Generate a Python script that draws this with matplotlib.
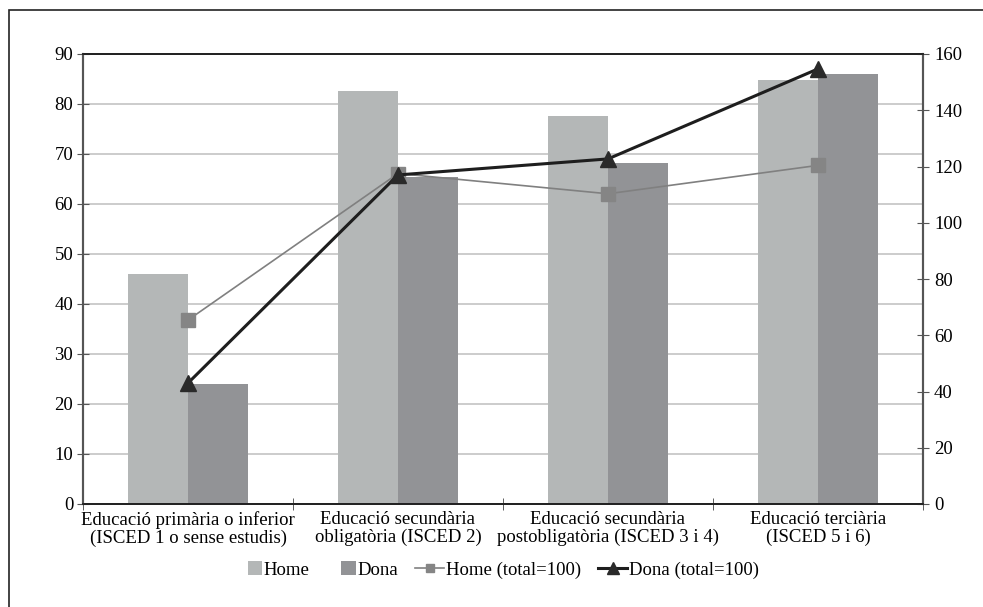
import matplotlib
matplotlib.use("Agg")
import matplotlib.pyplot as plt
import numpy as np
from matplotlib.patches import Rectangle, Patch
from matplotlib.lines import Line2D
from matplotlib.legend_handler import HandlerPatch

categories = ["Educació primària o inferior\n(ISCED 1 o sense estudis)",
              "Educació secundària\nobligatòria (ISCED 2)",
              "Educació secundària\npostobligatòria (ISCED 3 i 4)",
              "Educació terciària\n(ISCED 5 i 6)"]
home = [46.0, 82.6, 77.6, 84.8]
dona = [24.0, 65.4, 68.2, 86.0]
home_idx = [65.4, 117.5, 110.3, 120.4]
dona_idx = [43.0, 117.0, 122.7, 154.7]

plt.rcParams['font.family'] = ['Liberation Serif', 'DejaVu Serif']
FS = 13.5
C_HOME = '#b4b7b7'
C_DONA = '#929396'

fig = plt.figure(figsize=(9.83, 6.07), dpi=100)
fig.patches.append(Rectangle((9/983, -0.05), 1.2, 1 - 10/607 + 0.05, transform=fig.transFigure,
                             fill=False, edgecolor='#222222', linewidth=1.2))
ax = fig.add_axes([83/983, 1 - 504/607, 840/983, 450/607])
ax2 = ax.twinx()

x = np.arange(len(categories))
w = 0.288
ax.bar(x - w/2, home, w, color=C_HOME, label='Home', zorder=2)
ax.bar(x + w/2, dona, w, color=C_DONA, label='Dona', zorder=2)

ax.set_xlim(-0.5, 3.5)
ax.set_ylim(0, 90)
ax.set_yticks(range(0, 91, 10))
ax.grid(axis='y', color='#c8c8c8', linewidth=1.3, zorder=0)
ax.set_axisbelow(True)
ax.set_xticks(x)
ax.set_xticklabels(categories, fontsize=FS, linespacing=1.05)
ax.set_xticks(np.arange(-0.5, 4, 1), minor=True)
ax.tick_params(axis='x', which='major', length=0, pad=5)
ax.tick_params(axis='x', which='minor', length=9, direction='inout', color='#444444')
ax.tick_params(axis='y', direction='inout', length=8, color='#555555', labelsize=FS, pad=3)

ax2.plot(x, home_idx, color='#808080', linewidth=1.2, marker='s', markersize=10.5,
         markerfacecolor='#858585', markeredgecolor='#858585', label='Home (total=100)', zorder=3)
ax2.plot(x, dona_idx, color='#1e1e1e', linewidth=2.2, marker='^', markersize=12,
         markerfacecolor='#2a2a2a', markeredgecolor='#2a2a2a', label='Dona (total=100)', zorder=4)
ax2.set_ylim(0, 160)
ax2.set_yticks(range(0, 161, 20))
ax2.tick_params(axis='y', direction='inout', length=8, color='#555555', labelsize=FS, pad=4)

for a in (ax, ax2):
    for s in ('left', 'right'):
        a.spines[s].set_color('#555555')
        a.spines[s].set_linewidth(1.5)
    for s in ('bottom', 'top'):
        a.spines[s].set_color('#222222')
        a.spines[s].set_linewidth(1.3)
ax.set_zorder(ax2.get_zorder() - 1)
ax2.patch.set_visible(False)


def square_patch(legend, orig_handle, xdescent, ydescent, width, height, fontsize):
    s = height * 1.05
    return Rectangle((width - s - xdescent, -ydescent + (height - s) / 2), s, s)


hp = [Patch(facecolor=C_HOME, edgecolor='none'), Patch(facecolor=C_DONA, edgecolor='none')]
hl = [Line2D([], [], color='#808080', linewidth=1.2, marker='s', markersize=6,
             markerfacecolor='#858585', markeredgecolor='#858585'),
      Line2D([], [], color='#1e1e1e', linewidth=2.2, marker='^', markersize=8,
             markerfacecolor='#2a2a2a', markeredgecolor='#2a2a2a')]
labels = ['Home', 'Dona', 'Home (total=100)', 'Dona (total=100)']
fig.legend(hp + hl, labels, loc='center', bbox_to_anchor=(496/983, 1 - 570/607),
           ncol=4, frameon=False, fontsize=FS, handlelength=1.55, handleheight=0.75,
           columnspacing=0.9, handletextpad=0.1, borderpad=0,
           handler_map={Patch: HandlerPatch(patch_func=square_patch)})

fig.savefig("out.png", dpi=100)
